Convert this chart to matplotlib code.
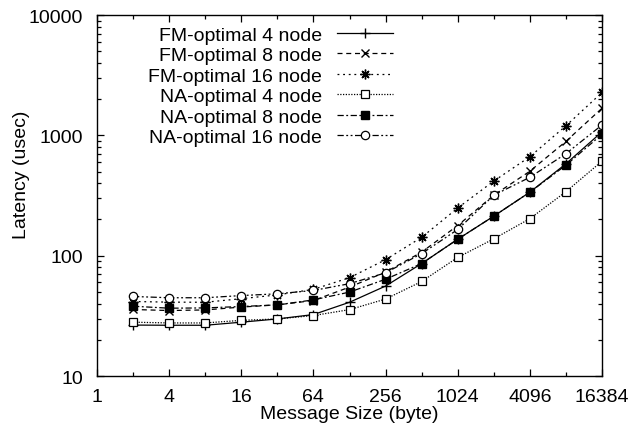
import matplotlib
matplotlib.use("Agg")
import matplotlib.pyplot as plt
from matplotlib.ticker import FixedLocator, LogLocator, NullFormatter

plt.rcParams['font.family'] = ['Liberation Sans', 'DejaVu Sans']

# message sizes (byte)
sizes = [2, 4, 8, 16, 32, 64, 128, 256, 512, 1024, 2048, 4096, 8192, 16384]

# latency (usec)
fm4 = [26.5, 26.4, 26.4, 28, 29.8, 32.4, 41, 55.9, 86, 137, 213, 337, 580, 1070]
fm8 = [35.7, 35, 35.4, 37.4, 39, 42.4, 54.8, 73, 107, 178, 318, 503, 891, 1680]
fm16 = [41.6, 41.1, 41, 43.9, 47.2, 52.5, 65.6, 92.6, 142, 249, 417, 664, 1200, 2270]
na4 = [28, 27.6, 27.6, 29, 29.8, 31.8, 35.6, 43.6, 61, 96.7, 138, 203, 340, 610]
na8 = [38, 36.6, 36.8, 37.8, 39, 42.9, 49.8, 63.7, 86, 137, 213, 337, 565, 1020]
na16 = [45.8, 44.7, 44.7, 46.6, 48.2, 51.4, 58.5, 72, 104, 165, 318, 448, 704, 1219]

labels = ["FM-optimal 4 node", "FM-optimal 8 node", "FM-optimal 16 node",
          "NA-optimal 4 node", "NA-optimal 8 node", "NA-optimal 16 node"]
xticks = [1, 4, 16, 64, 256, 1024, 4096, 16384]

fig = plt.figure(figsize=(6.34, 4.31), dpi=100)
ax = fig.add_axes([97 / 634, 1 - 377 / 431, 505 / 634, 361 / 431])

lw = 0.9
ax.plot(sizes, fm4, color='black', lw=lw, ls='-', marker='+', ms=7, label=labels[0])
ax.plot(sizes, fm8, color='black', lw=lw, ls=(0, (4, 3)), marker='x', ms=6, label=labels[1])
ax.plot(sizes, fm16, color='black', lw=lw, ls=(0, (1.5, 3)), marker=(8, 2, 0), ms=7, label=labels[2])
ax.plot(sizes, na4, color='black', lw=lw, ls=(0, (1, 1.2)), marker='s', ms=6,
        mfc='white', mec='black', mew=0.9, label=labels[3])
ax.plot(sizes, na8, color='black', lw=lw, ls=(0, (5, 2, 1.5, 2)), marker='s', ms=6, label=labels[4])
ax.plot(sizes, na16, color='black', lw=lw, ls=(0, (5, 2, 1.5, 2, 1.5, 2)), marker='o', ms=6,
        mfc='white', mec='black', mew=0.9, label=labels[5])

ax.set_xscale('log', base=2)
ax.set_yscale('log')
ax.set_xlim(1, 16384)
ax.set_ylim(10, 10000)

ax.xaxis.set_major_locator(FixedLocator(xticks))
ax.set_xticklabels([str(v) for v in xticks])
ax.xaxis.set_minor_locator(FixedLocator([2 ** k for k in range(1, 14, 2)]))
ax.xaxis.set_minor_formatter(NullFormatter())
ax.yaxis.set_major_locator(FixedLocator([10, 100, 1000, 10000]))
ax.set_yticklabels(['10', '100', '1000', '10000'])
ax.yaxis.set_minor_locator(LogLocator(base=10, subs=range(2, 10)))
ax.yaxis.set_minor_formatter(NullFormatter())

ax.tick_params(which='both', direction='in', top=True, right=True, labelsize=14, width=0.9)
ax.tick_params(which='major', length=5)
ax.tick_params(which='minor', length=3)
ax.tick_params(axis='x', which='major', pad=9)
ax.tick_params(axis='y', which='major', pad=10)
for s in ax.spines.values():
    s.set_linewidth(1.0)

ax.set_xlabel('Message Size (byte)', fontsize=14, labelpad=0)
ax.set_ylabel('Latency (usec)', fontsize=14)
ax.yaxis.set_label_coords(-0.133, 0.56)

leg = ax.legend(loc='upper right', bbox_to_anchor=(393 / 634, 1 - 27 / 431),
                bbox_transform=fig.transFigure, frameon=False, markerfirst=False,
                fontsize=14, handlelength=2.9, handletextpad=0.77, labelspacing=0.15,
                borderpad=0, borderaxespad=0)

fig.savefig('out.png', dpi=100)
